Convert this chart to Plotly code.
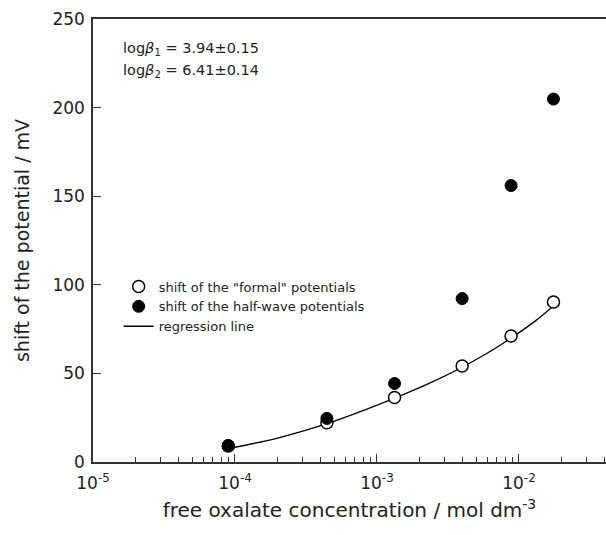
import plotly.graph_objects as go

# concentrations (mol dm^-3)
conc = [8.97e-5, 4.44e-4, 1.33e-3, 3.98e-3, 8.8e-3, 1.75e-2]
formal_shift = [9.0, 22.1, 36.4, 54.2, 71.1, 90.3]
halfwave_shift = [9.3, 24.6, 44.3, 92.2, 156.0, 204.8]

# regression line
reg_conc = [8.97e-5, 2.0e-4, 4.44e-4, 8.0e-4, 1.33e-3, 2.5e-3, 3.98e-3, 6.0e-3, 8.8e-3, 1.3e-2, 1.75e-2]
reg_shift = [7.6, 13.5, 21.6, 29.0, 36.0, 45.5, 53.5, 61.5, 70.0, 79.5, 88.0]

xtick_vals = [1e-5, 1e-4, 1e-3, 1e-2]
xtick_text = ["10<sup>-5</sup>", "10<sup>-4</sup>", "10<sup>-3</sup>", "10<sup>-2</sup>"]
ytick_vals = [0, 50, 100, 150, 200, 250]

FONT = "DejaVu Sans"

fig = go.Figure()
fig.add_trace(go.Scatter(
    x=reg_conc, y=reg_shift, mode="lines", name="regression line",
    line=dict(color="black", width=1.3, shape="spline"), legendrank=3))
fig.add_trace(go.Scatter(
    x=conc, y=formal_shift, mode="markers", name='shift of the "formal" potentials',
    marker=dict(symbol="circle", size=12, color="white", line=dict(color="black", width=1.5)),
    legendrank=1))
fig.add_trace(go.Scatter(
    x=conc, y=halfwave_shift, mode="markers", name="shift of the half-wave potentials",
    marker=dict(symbol="circle", size=12, color="black", line=dict(color="black", width=1)),
    legendrank=2))

fig.update_layout(
    width=606, height=535,
    margin=dict(l=93, r=0, t=19, b=73),
    paper_bgcolor="white", plot_bgcolor="white",
    font=dict(family=FONT, color="#222", size=16),
    showlegend=True,
    legend=dict(x=0.05, y=0.43, xanchor="left", yanchor="top",
                bgcolor="rgba(0,0,0,0)", font=dict(size=13, family=FONT),
                tracegroupgap=0, itemwidth=30),
    xaxis=dict(
        type="log", range=[-5, -1.387],
        tickvals=xtick_vals, ticktext=xtick_text,
        ticks="inside", ticklen=8, tickwidth=1.3, tickcolor="#333",
        ticklabelstandoff=5,
        showline=True, linecolor="#333", linewidth=1.5, mirror=True,
        showgrid=False, zeroline=False,
        tickfont=dict(size=17, family=FONT),
        minor=dict(ticks="inside", ticklen=5, tickwidth=1.2, tickcolor="#333",
                   dtick="D1", showgrid=False),
        title=dict(text="free oxalate concentration / mol dm<sup>-3</sup>",
                   font=dict(size=20, family=FONT), standoff=11),
    ),
    yaxis=dict(
        range=[0, 250], tickvals=ytick_vals,
        ticks="inside", ticklen=8, tickwidth=1.3, tickcolor="#333",
        ticklabelstandoff=3,
        showline=True, linecolor="#333", linewidth=1.5,
        showgrid=False, zeroline=False,
        tickfont=dict(size=17, family=FONT),
        title=dict(text="shift of the potential / mV",
                   font=dict(size=19, family=FONT), standoff=18),
    ),
    annotations=[
        dict(xref="paper", yref="paper", x=0.054, y=0.933, xanchor="left", yanchor="middle",
             text="log<i>β</i><sub>1</sub> = 3.94±0.15", showarrow=False,
             font=dict(size=14.5, family=FONT, color="#222")),
        dict(xref="paper", yref="paper", x=0.054, y=0.883, xanchor="left", yanchor="middle",
             text="log<i>β</i><sub>2</sub> = 6.41±0.14", showarrow=False,
             font=dict(size=14.5, family=FONT, color="#222")),
    ],
)

fig.write_html("out.html")
